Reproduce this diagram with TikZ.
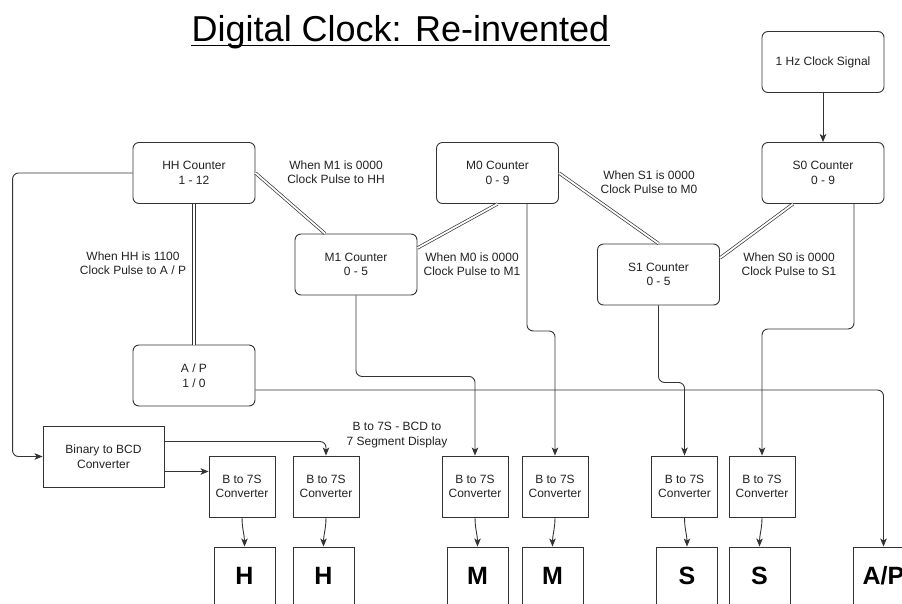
\documentclass[tikz,border=0pt]{standalone}
\usepackage{fontspec}
\setmainfont{Liberation Sans}
\usetikzlibrary{arrows.meta}
\definecolor{wire}{HTML}{333333}
\definecolor{ink}{HTML}{222222}

\begin{document}
\begin{tikzpicture}[x=1pt, y=-1pt, >={Stealth[length=8pt,width=6.5pt,inset=2pt]},
    line width=0.9pt, draw=wire, text=ink,
    counter/.style={draw, rounded corners=6pt, minimum width=122pt, minimum height=61pt,
        align=center, font=\fontsize{12}{14.5}\selectfont},
    conv/.style={draw, minimum width=66pt, minimum height=61pt, align=center,
        font=\fontsize{12}{14.5}\selectfont},
    digit/.style={draw, minimum width=61pt, minimum height=58pt,
        font=\fontsize{25}{30}\selectfont\bfseries, text=black},
    note/.style={align=center, font=\fontsize{12}{14.5}\selectfont},
    carry/.style={double=white, double distance=1.8pt, line width=0.7pt},
    wire/.style={->, rounded corners=6pt}]
    \clip (0,0) rectangle (902,603);
    \fill[white] (0,0) rectangle (902,603);

    % title
    \node[font=\fontsize{36}{40}\selectfont, inner sep=0, anchor=base, text=black] (title) at (400.5,41) {Digital Clock: Re-invented};
    \draw[line width=1.5pt, black] ([yshift=-4.5pt]title.base west) -- ([yshift=-4.5pt]title.base east);

    % counters
    \node[counter] (clk) at (823,62) {1 Hz Clock Signal};
    \node[counter] (hh) at (194,173) {HH Counter\\1 - 12};
    \node[counter] (m0) at (497.5,173) {M0 Counter\\0 - 9};
    \node[counter] (s0) at (823,173) {S0 Counter\\0 - 9};
    \node[counter] (m1) at (356,264.5) {M1 Counter\\0 - 5};
    \node[counter] (s1) at (658.5,274.5) {S1 Counter\\0 - 5};
    \node[counter] (ap) at (194,375.5) {A / P\\1 / 0};
    \node[conv, minimum width=121pt] (bcd) at (103.5,456.5) {Binary to BCD\\Converter};

    % converters and displays
    \node[conv] (b1) at (242,486.5) {B to 7S\\Converter};
    \node[conv] (b2) at (326,486.5) {B to 7S\\Converter};
    \node[conv] (b3) at (475,486.5) {B to 7S\\Converter};
    \node[conv] (b4) at (555,486.5) {B to 7S\\Converter};
    \node[conv] (b5) at (684.5,486.5) {B to 7S\\Converter};
    \node[conv] (b6) at (762,486.5) {B to 7S\\Converter};
    \node[digit] (d1) at (244.5,576) {H};
    \node[digit] (d2) at (323.5,576) {H};
    \node[digit] (d3) at (477.5,576) {M};
    \node[digit] (d4) at (552.5,576) {M};
    \node[digit] (d5) at (687,576) {S};
    \node[digit] (d6) at (759.5,576) {S};
    \node[digit] (d7) at (883.5,576) {A/P};

    % labels
    \node[note] (lhh) at (133,263) {When HH is 1100\\Clock Pulse to A / P};
    \node[note] (lm1) at (336,172) {When M1 is 0000\\Clock Pulse to HH};
    \node[note] (lm0) at (472,264) {When M0 is 0000\\Clock Pulse to M1};
    \node[note] (ls1) at (649,182) {When S1 is 0000\\Clock Pulse to M0};
    \node[note] (ls0) at (789,264) {When S0 is 0000\\Clock Pulse to S1};
    \node[note] (lb7) at (397,435) {B to 7S - BCD to\\7 Segment Display};

    % carry links
    \draw[carry] (hh.south) -- (ap.north);
    \draw[carry] (hh.east) -- ([xshift=-31pt]m1.north);
    \draw[carry] (m0.south) -- ([yshift=16.5pt]m1.east);
    \draw[carry] (m0.east) -- (s1.north);
    \draw[carry] ([xshift=-30pt]s0.south) -- ([yshift=16.5pt]s1.east);

    % signal wires
    \draw[->] (clk) -- (s0);
    \draw[wire] (hh.west) -| ([xshift=-30pt]bcd.west) -- (bcd.west);
    \draw[->] ([yshift=-15pt]bcd.east) -- ([yshift=15pt]b1.west);
    \draw[wire] ([yshift=15pt]bcd.east) -| (b2.north);
    \draw[wire] (m1.south) -- ++(0,81) -| (b3.north);
    \draw[wire] ([xshift=29.5pt]m0.south) -- ++(0,127) -| (b4.north);
    \draw[wire] (s1.south) -- ++(0,77) -| (b5.north);
    \draw[wire] ([xshift=31pt]s0.south) -- ++(0,125) -| (b6.north);
    \draw[wire] ([yshift=-14.5pt]ap.east) -| (d7.north);
    \foreach \i in {1,...,6} {
        \draw[->] (b\i.south) to[out=-90, in=90] (d\i.north);
    }
\end{tikzpicture}
\end{document}
